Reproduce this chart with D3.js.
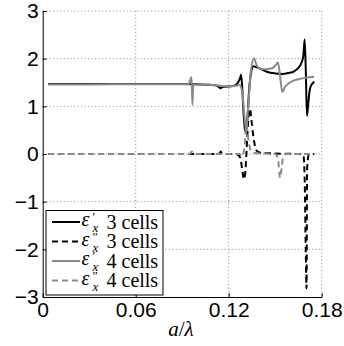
<!DOCTYPE html>
<html><head><meta charset="utf-8">
<script src="https://cdn.jsdelivr.net/npm/d3@7"></script>
<style>
html,body{margin:0;padding:0;background:#fff;}
svg{display:block;}
</style></head>
<body>
<svg id="chart" width="344" height="346"></svg>
<script>
// ---- data ----
const xTicks = [0, 0.06, 0.12, 0.18];
const xTickLabels = ["0", "0.06", "0.12", "0.18"];
const yTicks = [-3, -2, -1, 0, 1, 2, 3];
const yTickLabels = ["\u22123", "\u22122", "\u22121", "0", "1", "2", "3"];

// eps' 3 cells
const epsRe3 = [
 [0.0035,1.47],[0.03,1.47],[0.06,1.47],[0.09,1.468],[0.100,1.462],[0.108,1.452],[0.112,1.44],
 [0.1138,1.40],[0.1148,1.38],[0.1160,1.405],[0.118,1.412],[0.121,1.42],[0.124,1.44],[0.126,1.50],
 [0.1274,1.60],[0.1280,1.66],[0.1287,1.40],[0.1296,0.85],[0.1306,0.50],[0.1312,0.46],[0.1320,0.70],
 [0.1332,1.35],[0.1345,1.72],[0.1360,1.84],[0.1380,1.82],[0.1410,1.78],[0.145,1.72],[0.150,1.69],
 [0.155,1.68],[0.1585,1.70],[0.162,1.73],[0.1648,1.80],[0.1670,1.92],[0.1681,2.05],[0.1690,2.40],
 [0.1697,1.80],[0.1705,0.80],[0.1713,1.05],[0.1725,1.38],[0.1752,1.52]
];
// eps'' 3 cells
const epsIm3 = [
 [0.0035,0],[0.05,0],[0.11,0],[0.1140,0.01],[0.1148,0.05],[0.1158,0.01],[0.118,0],[0.124,0],
 [0.126,-0.02],[0.1275,-0.08],[0.1286,-0.30],[0.1299,-0.53],[0.1309,-0.30],[0.1318,0.25],[0.1328,0.78],
 [0.1337,0.95],[0.1347,0.70],[0.1360,0.35],[0.1378,0.08],[0.140,0.03],[0.150,0.01],[0.165,0],
 [0.1682,-0.03],[0.1690,-0.5],[0.1697,-2.0],[0.1702,-2.82],[0.1706,-0.3],[0.1716,-0.02],[0.1752,0]
];
// eps' 4 cells
const epsRe4 = [
 [0.0035,1.46],[0.03,1.46],[0.06,1.465],[0.094,1.462],[0.0960,1.61],[0.0966,1.03],[0.0972,1.46],
 [0.105,1.452],[0.112,1.44],[0.118,1.42],[0.122,1.42],[0.125,1.43],[0.127,1.45],[0.1288,1.30],
 [0.1300,0.85],[0.1313,0.50],[0.1326,1.00],[0.1342,1.70],[0.1363,2.01],[0.1378,1.88],[0.1395,1.80],
 [0.143,1.78],[0.1480,1.80],[0.1502,1.86],[0.1518,1.92],[0.1532,1.62],[0.1546,1.30],[0.1562,1.40],
 [0.1595,1.50],[0.165,1.57],[0.170,1.60],[0.1752,1.62]
];
// eps'' 4 cells
const epsIm4 = [
 [0.0035,0],[0.05,0],[0.0950,0],[0.0962,0.05],[0.0972,0],[0.12,0],[0.127,0],[0.1288,-0.05],
 [0.1302,0.15],[0.1314,0.62],[0.1325,0.35],[0.1342,0.08],[0.137,0.02],[0.150,0],[0.1518,-0.1],
 [0.1531,-0.50],[0.1541,-0.3],[0.1552,-0.05],[0.157,0],[0.1752,0]
];

const seriesNames = ["3 cells", "3 cells", "4 cells", "4 cells"];
const seriesPrime = ["\u2032", "\u2033", "\u2032", "\u2033"];

// ---- layout ----
const svg = d3.select("#chart");
const L = 42.7, R = 321.7, T = 11, B = 297;
const x = d3.scaleLinear().domain([0, 0.18]).range([L, R]);
const y = d3.scaleLinear().domain([-3, 3]).range([B, T]);

// grid
const grid = svg.append("g");
grid.selectAll(".gx").data(xTicks.slice(1)).enter().append("line")
  .attr("x1", d => x(d)).attr("x2", d => x(d)).attr("y1", T).attr("y2", B)
  .attr("stroke", "#888").attr("stroke-width", 1).attr("stroke-dasharray", "1,2.5");
grid.selectAll(".gy").data(yTicks.slice(1)).enter().append("line")
  .attr("y1", d => y(d)).attr("y2", d => y(d)).attr("x1", L).attr("x2", R)
  .attr("stroke", "#888").attr("stroke-width", 1).attr("stroke-dasharray", "1,2.5");

// lines
const line = d3.line().x(d => x(d[0])).y(d => y(d[1])).curve(d3.curveMonotoneX);
const styles = [
  {data: epsRe3, color: "#000", dash: null, w: 2},
  {data: epsIm3, color: "#000", dash: "6,4", w: 2},
  {data: epsRe4, color: "#8a8a8a", dash: null, w: 2},
  {data: epsIm4, color: "#8a8a8a", dash: "6,4", w: 2}
];
styles.forEach(s => {
  svg.append("path").datum(s.data).attr("d", line)
    .attr("fill", "none").attr("stroke", s.color).attr("stroke-width", s.w)
    .attr("stroke-dasharray", s.dash).attr("stroke-linejoin", "round");
});

// axes
const fontSans = "'Liberation Sans', Arial, Helvetica, sans-serif";
const xAxis = d3.axisBottom(x).tickValues(xTicks).tickFormat((d, i) => xTickLabels[i])
  .tickSizeInner(-4).tickSizeOuter(0).tickPadding(5);
const yAxis = d3.axisLeft(y).tickValues(yTicks).tickFormat((d, i) => yTickLabels[i])
  .tickSizeInner(-4).tickSizeOuter(0).tickPadding(4);
const gx = svg.append("g").attr("transform", `translate(0,${B})`).call(xAxis);
const gy = svg.append("g").attr("transform", `translate(${L},0)`).call(yAxis);
[gx, gy].forEach(g => {
  g.selectAll("text").attr("font-family", fontSans).attr("font-size", 21).attr("fill", "#000");
  g.select(".domain").attr("stroke", "#000").attr("stroke-width", 1);
  g.selectAll(".tick line").attr("stroke", "#000");
});

// x label
const xl = svg.append("text").attr("x", 181).attr("y", 336).attr("text-anchor", "middle")
  .attr("font-family", "'Liberation Serif', 'DejaVu Serif', serif").attr("font-size", 21);
xl.append("tspan").attr("font-style", "italic").text("a");
xl.append("tspan").text("/");
xl.append("tspan").attr("font-style", "italic").text("\u03bb");

// legend
const lg = svg.append("g");
lg.append("rect").attr("x", 46).attr("y", 210.5).attr("width", 117).attr("height", 84.5)
  .attr("fill", "#fff").attr("stroke", "#000").attr("stroke-width", 1);
const rowY = [222, 241.5, 261, 280.5];
const serif = "'Liberation Serif', 'DejaVu Serif', serif";
styles.forEach((s, i) => {
  const yy = rowY[i];
  lg.append("line").attr("x1", 52).attr("x2", 80).attr("y1", yy).attr("y2", yy)
    .attr("stroke", s.color).attr("stroke-width", s.w).attr("stroke-dasharray", s.dash);
  lg.append("text").attr("x", 81.5).attr("y", yy + 4).attr("font-family", serif)
    .attr("font-style", "italic").attr("font-size", 20).text("\u03b5");
  lg.append("text").attr("x", 92.5).attr("y", yy - 1).attr("font-family", serif)
    .attr("font-size", 13).text(seriesPrime[i]);
  lg.append("text").attr("x", 92.5).attr("y", yy + 10).attr("font-family", serif)
    .attr("font-style", "italic").attr("font-size", 13).text("x");
  lg.append("text").attr("x", 106.5).attr("y", yy + 6.5).attr("font-family", serif)
    .attr("font-size", 20).text(seriesNames[i]);
});
</script>
</body></html>
